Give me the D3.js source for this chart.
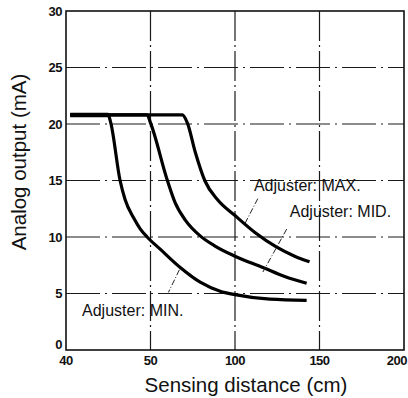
<!DOCTYPE html>
<html>
<head>
<meta charset="utf-8">
<script src="https://cdn.jsdelivr.net/npm/d3@7"></script>
<style>
  body { margin: 0; background: #fff; }
  text { font-family: "Liberation Sans", Arial, sans-serif; fill: #111; }
</style>
</head>
<body>
<div id="chart"></div>
<script>
// values: [distance cm, output mA]
const xTicks = [40, 50, 100, 150, 200];
const yTicks = [0, 5, 10, 15, 20, 25, 30];
const xGrid = [50, 100, 150];
const yGrid = [5, 10, 15, 20, 25];

const minCurve = [[40.5, 20.8], [45.0, 20.8], [45.3, 20.1], [46.4, 15.0], [47.0, 13.3], [48.0, 11.7],
  [48.8, 10.7], [49.6, 10.0], [55.9, 8.9], [67.6, 7.3], [79.4, 6.0], [91.2, 5.2], [100, 4.9],
  [120.6, 4.5], [142.4, 4.4]];
const midCurve = [[40.5, 20.8], [49.6, 20.8], [50, 20.1], [60, 15.0], [64.7, 13.0], [70.6, 11.5],
  [79.4, 10.1], [88.2, 9.2], [100, 8.3], [116.5, 7.3], [129.4, 6.5], [142.4, 5.9]];
const maxCurve = [[40.5, 20.8], [68.8, 20.8], [71.8, 20.1], [76.5, 17.5], [82.1, 15.0], [89.7, 13.3],
  [100, 11.9], [111.8, 10.4], [124.7, 9.1], [135.3, 8.3], [144.1, 7.8]];

const labels = ["Adjuster: MAX.", "Adjuster: MID.", "Adjuster: MIN."];
const labelAt = [[111.2, 14.1], [132.4, 11.8], [41.9, 3.0]];
const leaders = [[[113.5, 13.4], [105.9, 11.2]], [[130.6, 10.7], [116.5, 6.9]], [[67.1, 7.1], [60.6, 5.1]]];

const width = 408;
const height = 398;
const margin = {t: 11, b: 48, l: 66, r: 4};

const svg = d3.select("#chart")
    .append("svg")
    .attr("width", width)
    .attr("height", height)
    .attr("viewBox", [0, 0, width, height]);

// the x axis is evenly spaced per tick, not linear
const pw = width - margin.l - margin.r;
const x = d3.scaleLinear()
    .domain(xTicks)
    .range(xTicks.map((d, i) => margin.l + i * pw / (xTicks.length - 1)));
const y = d3.scaleLinear()
    .domain([0, 30])
    .range([height - margin.b, margin.t]);

// grid
svg.append("g").selectAll("line")
    .data(yGrid).enter()
    .append("line")
    .attr("x1", margin.l).attr("x2", width - margin.r)
    .attr("y1", d => y(d)).attr("y2", d => y(d))
    .attr("stroke", "#1a1a1a")
    .attr("stroke-width", 1.2)
    .attr("stroke-dasharray", "34,5,2,5");
svg.append("g").selectAll("line")
    .data(xGrid).enter()
    .append("line")
    .attr("x1", d => x(d)).attr("x2", d => x(d))
    .attr("y1", margin.t).attr("y2", height - margin.b)
    .attr("stroke", "#1a1a1a")
    .attr("stroke-width", 1.2)
    .attr("stroke-dasharray", "30,4,2,4");

// frame
svg.append("rect")
    .attr("x", margin.l).attr("y", margin.t)
    .attr("width", pw).attr("height", height - margin.t - margin.b)
    .attr("fill", "none")
    .attr("stroke", "#111")
    .attr("stroke-width", 1.6);

// tick labels
svg.append("g").selectAll("text")
    .data(yTicks).enter()
    .append("text")
    .attr("x", margin.l - 4)
    .attr("y", d => y(d))
    .attr("dy", d => d === 0 ? "-0.05em" : "0.35em")
    .attr("text-anchor", "end")
    .attr("font-size", "13px")
    .attr("font-weight", "bold")
    .attr("letter-spacing", "-0.5px")
    .text(d => d);
svg.append("g").selectAll("text")
    .data(xTicks).enter()
    .append("text")
    .attr("x", d => d === 200 ? width - 1 : x(d))
    .attr("y", height - margin.b + 15)
    .attr("text-anchor", d => d === 200 ? "end" : "middle")
    .attr("font-size", "13px")
    .attr("font-weight", "bold")
    .attr("letter-spacing", "-0.5px")
    .text(d => d);

// curves
const line = d3.line()
    .x(d => x(d[0]))
    .y(d => y(d[1]))
    .curve(d3.curveMonotoneX);
svg.append("g").selectAll("path")
    .data([minCurve, midCurve, maxCurve]).enter()
    .append("path")
    .attr("d", line)
    .attr("fill", "none")
    .attr("stroke", "#000")
    .attr("stroke-width", 3.2)
    .attr("stroke-linejoin", "round");

// thicker start of the shared flat part
svg.append("path")
    .attr("d", line(minCurve.slice(0, 2)))
    .attr("stroke", "#000")
    .attr("stroke-width", 4.5);

// leader lines
svg.append("g").selectAll("line")
    .data(leaders).enter()
    .append("line")
    .attr("x1", d => x(d[0][0])).attr("y1", d => y(d[0][1]))
    .attr("x2", d => x(d[1][0])).attr("y2", d => y(d[1][1]))
    .attr("stroke", "#222")
    .attr("stroke-width", 1)
    .attr("stroke-dasharray", "6,2,1,2");

svg.append("g").selectAll("text")
    .data(labels).enter()
    .append("text")
    .attr("x", (d, i) => x(labelAt[i][0]))
    .attr("y", (d, i) => y(labelAt[i][1]))
    .attr("font-size", "16px")
    .text(d => d);

// axis titles
svg.append("text")
    .attr("x", 246)
    .attr("y", 392)
    .attr("text-anchor", "middle")
    .attr("font-size", "20.5px")
    .text("Sensing distance (cm)");
svg.append("text")
    .attr("transform", "translate(26," + 162 + ")rotate(-90)")
    .attr("text-anchor", "middle")
    .attr("font-size", "20.5px")
    .text("Analog output (mA)");
</script>
</body>
</html>
